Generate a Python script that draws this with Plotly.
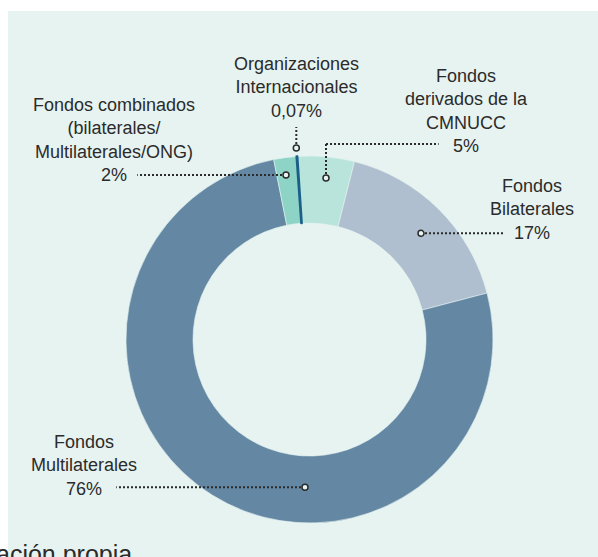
import plotly.graph_objects as go

# ---- data ----
categories = ["Fondos derivados de la CMNUCC", "Fondos Bilaterales", "Fondos Multilaterales",
              "Fondos combinados (bilaterales/Multilaterales/ONG)", "Organizaciones Internacionales"]
values = [5, 17, 76, 2, 0.07]
value_labels = ["5%", "17%", "76%", "2%", "0,07%"]
label_texts = ["Fondos<br>derivados de la<br>CMNUCC", "Fondos<br>Bilaterales", "Fondos<br>Multilaterales",
               "Fondos combinados<br>(bilaterales/<br>Multilaterales/ONG)", "Organizaciones<br>Internacionales"]
source_text = "Fuente: Elaboración propia"

# ---- style ----
W, H = 598, 557
colors = ["#b8e4db", "#b0bfcf", "#6488a3", "#8dd3c6", "#1a5f87"]
BG = "#e6f3f1"
TXT = "#2b2b2b"
FONT = "Liberation Sans, Arial, sans-serif"
CX, CY, R = 309.5, 339.5, 183.5
HOLE = 0.635

def px(x):
    return x / W

def py(y):
    return 1 - y / H

fig = go.Figure()
fig.add_trace(go.Pie(
    labels=categories, values=values, sort=False, direction="clockwise", rotation=-3.8,
    hole=HOLE, textinfo="none", hoverinfo="label+percent",
    marker=dict(colors=colors,
                line=dict(color=[BG, BG, BG, BG, colors[4]], width=[0.6, 0.6, 0.6, 0.6, 2.2])),
    domain=dict(x=[px(CX - R), px(CX + R)], y=[py(CY + R), py(CY - R)]),
    showlegend=False,
))

shapes = [dict(type="rect", xref="paper", yref="paper", x0=px(8), x1=px(W + 5), y0=py(H + 5), y1=py(11),
               fillcolor=BG, line=dict(width=0), layer="below")]

# label block centres (px) and leader paths (px)
label_pos = [(466, 111), (531.7, 209), (84, 465), (113.5, 140), (296.3, 88)]
leaders = [
    [(326, 178), (326, 144), (438.6, 144)],
    [(421, 233.3), (503, 233.3)],
    [(305, 487.3), (116.3, 487.3)],
    [(286, 175), (137.3, 175)],
    [(296.3, 148), (296.3, 127)],
]

annotations = []
for txt, val, (lx, ly) in zip(label_texts, value_labels, label_pos):
    annotations.append(dict(text=txt + "<br>" + val, x=px(lx), y=py(ly), xref="paper", yref="paper",
                            xanchor="center", yanchor="middle", align="center", showarrow=False,
                            font=dict(family=FONT, size=18, color=TXT)))

for path in leaders:
    (sx, sy) = path[0]
    for (x0, y0), (x1, y1) in zip(path[:-1], path[1:]):
        shapes.append(dict(type="line", xref="paper", yref="paper", x0=px(x0), y0=py(y0), x1=px(x1), y1=py(y1),
                           line=dict(color=TXT, width=2, dash="2px,2px")))
    shapes.append(dict(type="circle", xref="paper", yref="paper", xsizemode="pixel", ysizemode="pixel",
                       xanchor=px(sx), yanchor=py(sy), x0=-3, x1=3, y0=-3, y1=3,
                       fillcolor=BG, line=dict(color=TXT, width=1.5)))

annotations.append(dict(text=source_text, x=px(134), y=py(554), xref="paper", yref="paper",
                        xanchor="right", yanchor="middle", showarrow=False,
                        font=dict(family=FONT, size=25, color=TXT)))

fig.update_layout(width=W, height=H, margin=dict(l=0, r=0, t=0, b=0),
                  paper_bgcolor="white", plot_bgcolor="white",
                  shapes=shapes, annotations=annotations)

fig.write_html("out.html", config={"displayModeBar": False},
               post_script="document.body.style.margin='0';")
